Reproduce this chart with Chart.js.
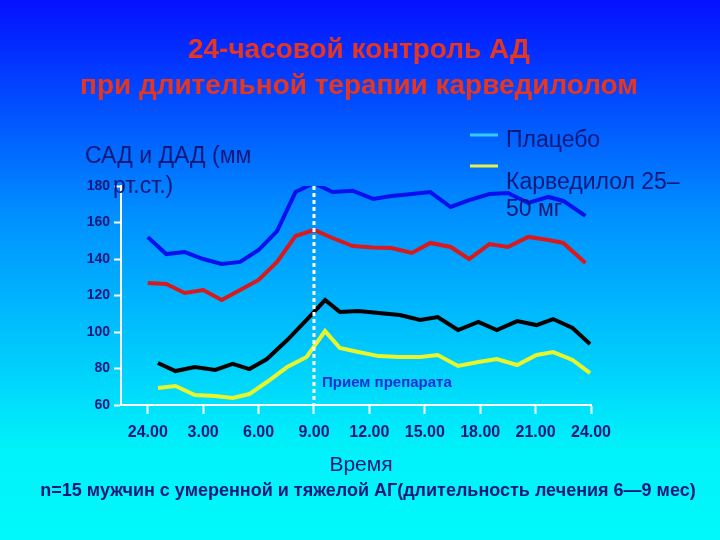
<!DOCTYPE html>
<html>
<head>
<meta charset="utf-8">
<script src="https://cdn.jsdelivr.net/npm/chart.js@4"></script>
<style>
  html, body { margin: 0; padding: 0; }
  #wrap { width: 720px; height: 540px; }
</style>
</head>
<body>
<div id="wrap"><canvas id="bp-chart" width="720" height="540"></canvas></div>
<script>
// hours (x) of each reading, SAD lines and DAD lines are offset a bit
const sadHours = [0, 1, 2, 3, 4, 5, 6, 7, 8, 9, 10, 11.1, 12.2, 13.2, 14.3, 15.3, 16.4, 17.4, 18.5, 19.5, 20.6, 21.7, 22.5, 23.7];
const dadHours = [0.55, 1.5, 2.55, 3.65, 4.6, 5.5, 6.45, 7.55, 8.6, 9.6, 10.4, 11.4, 12.5, 13.65, 14.75, 15.7, 16.8, 17.9, 18.9, 20, 21.05, 21.95, 23, 23.95];

const placeboSad = [152, 142.7, 143.8, 140, 137.3, 138.4, 144.9, 155.3, 176.7, 181.6, 176.7, 177.4, 172.9, 174.5, 175.6, 176.7, 168.5, 172.3, 175.6, 176.2, 170.7, 174, 171.8, 163.6];
const carvSad = [126.8, 126.3, 121.4, 123, 117.5, 123, 128.5, 138.4, 152.6, 155.9, 151.5, 147.1, 146.3, 146, 143.3, 148.8, 146.6, 140, 148.2, 146.6, 152.1, 150.4, 148.8, 137.8];
const placeboDad = [83, 78.6, 80.8, 79.2, 82.5, 79.7, 85.2, 95.6, 106.6, 117.5, 111, 111.5, 110.4, 109.3, 106.6, 108.2, 101.1, 105.5, 101.1, 106, 103.8, 107.1, 102.2, 93.4];
const carvDad = [69.3, 70.4, 65.5, 64.9, 63.8, 66, 72.6, 80.8, 86.3, 100.5, 91.2, 89, 86.8, 86.3, 86.3, 87.4, 81.4, 83.6, 85.2, 81.9, 87.4, 89, 84.7, 77.5];

const tickHours = [0, 3, 6, 9, 12, 15, 18, 21, 24];
const tickLabels = ['24.00', '3.00', '6.00', '9.00', '12.00', '15.00', '18.00', '21.00', '24.00'];
const doseHour = 9;

const navy = '#12177a';
const font = '"Liberation Sans", Arial, sans-serif';

function pts(xs, ys) {
  return xs.map((x, i) => ({ x: x, y: ys[i] }));
}

function line(data, color) {
  return { data: data, borderColor: color, borderWidth: 4, pointRadius: 0, tension: 0, fill: false };
}

const decor = {
  id: 'decor',
  beforeDraw(chart) {
    const ctx = chart.ctx;
    const g = ctx.createLinearGradient(0, 0, 0, 540);
    g.addColorStop(0, '#0410ff');
    g.addColorStop(0.4, '#0090ff');
    g.addColorStop(0.82, '#00f0fa');
    g.addColorStop(1, '#00fafa');
    ctx.save();
    ctx.fillStyle = g;
    ctx.fillRect(0, 0, chart.width, chart.height);
    ctx.restore();
  },
  afterDraw(chart) {
    const ctx = chart.ctx;
    const x = chart.scales.x;
    const y = chart.scales.y;
    ctx.save();

    // dashed line at dose time
    const dx = x.getPixelForValue(doseHour);
    ctx.strokeStyle = '#ffffff';
    ctx.lineWidth = 3;
    ctx.setLineDash([4, 3]);
    ctx.beginPath();
    ctx.moveTo(dx, y.top);
    ctx.lineTo(dx, y.bottom);
    ctx.stroke();
    ctx.setLineDash([]);

    ctx.textBaseline = 'middle';

    // title
    ctx.fillStyle = '#e6361f';
    ctx.textAlign = 'center';
    ctx.font = 'bold 28px ' + font;
    ctx.fillText('24-часовой контроль АД', 359, 50, 342);
    ctx.fillText('при длительной терапии карведилолом', 359, 86, 558);

    // axis caption
    ctx.fillStyle = navy;
    ctx.textAlign = 'left';
    ctx.font = '23px ' + font;
    ctx.fillText('САД и ДАД (мм', 85, 157);
    ctx.fillText('рт.ст.)', 113, 187);

    // legend
    ctx.lineWidth = 3;
    ctx.strokeStyle = '#33ccff';
    ctx.beginPath(); ctx.moveTo(470, 135); ctx.lineTo(498, 135); ctx.stroke();
    ctx.strokeStyle = '#e6f24a';
    ctx.beginPath(); ctx.moveTo(470, 166); ctx.lineTo(498, 166); ctx.stroke();
    ctx.fillText('Плацебо', 506, 141);
    ctx.fillText('Карведилол 25–', 506, 183);
    ctx.fillText('50 мг', 506, 210);

    // dose note
    ctx.fillStyle = '#1430d8';
    ctx.font = 'bold 15px ' + font;
    ctx.fillText('Прием препарата', 322, 383);

    // footer
    ctx.fillStyle = navy;
    ctx.textAlign = 'center';
    ctx.font = '21px ' + font;
    ctx.fillText('Время', 361, 465);
    ctx.font = 'bold 18px ' + font;
    ctx.fillText('n=15 мужчин с умеренной и тяжелой АГ(длительность лечения 6—9 мес)', 368, 491, 660);
    ctx.restore();
  }
};

new Chart(document.getElementById('bp-chart'), {
  type: 'line',
  data: {
    datasets: [
      line(pts(sadHours, placeboSad), '#0a0ff0'),
      line(pts(sadHours, carvSad), '#d81a1c'),
      line(pts(dadHours, placeboDad), '#000000'),
      line(pts(dadHours, carvDad), '#e8f52c')
    ]
  },
  options: {
    responsive: false,
    animation: false,
    layout: { padding: { left: 0, right: 129, top: 186, bottom: 95 } },
    plugins: { legend: { display: false }, tooltip: { enabled: false } },
    scales: {
      x: {
        type: 'linear',
        min: -1.45,
        max: 24,
        afterBuildTicks: s => { s.ticks = tickHours.map(v => ({ value: v })); },
        afterFit: s => { s.height = 40; },
        border: { display: true, color: '#ffffff', width: 2 },
        grid: { display: true, drawOnChartArea: false, drawTicks: true, tickLength: 9, tickWidth: 2, tickColor: '#ffffff' },
        ticks: {
          color: navy,
          font: { family: font, size: 16, weight: 'bold' },
          padding: 9,
          maxRotation: 0,
          autoSkip: false,
          callback: (v) => tickLabels[tickHours.indexOf(v)]
        }
      },
      y: {
        min: 60,
        max: 180,
        afterFit: s => { s.width = 121; },
        border: { display: true, color: '#ffffff', width: 2 },
        grid: { display: true, drawOnChartArea: false, drawTicks: true, tickLength: 7, tickWidth: 2, tickColor: '#ffffff' },
        ticks: {
          stepSize: 20,
          color: navy,
          font: { family: font, size: 14, weight: 'bold' },
          padding: 4
        }
      }
    }
  },
  plugins: [decor]
});
</script>
</body>
</html>
